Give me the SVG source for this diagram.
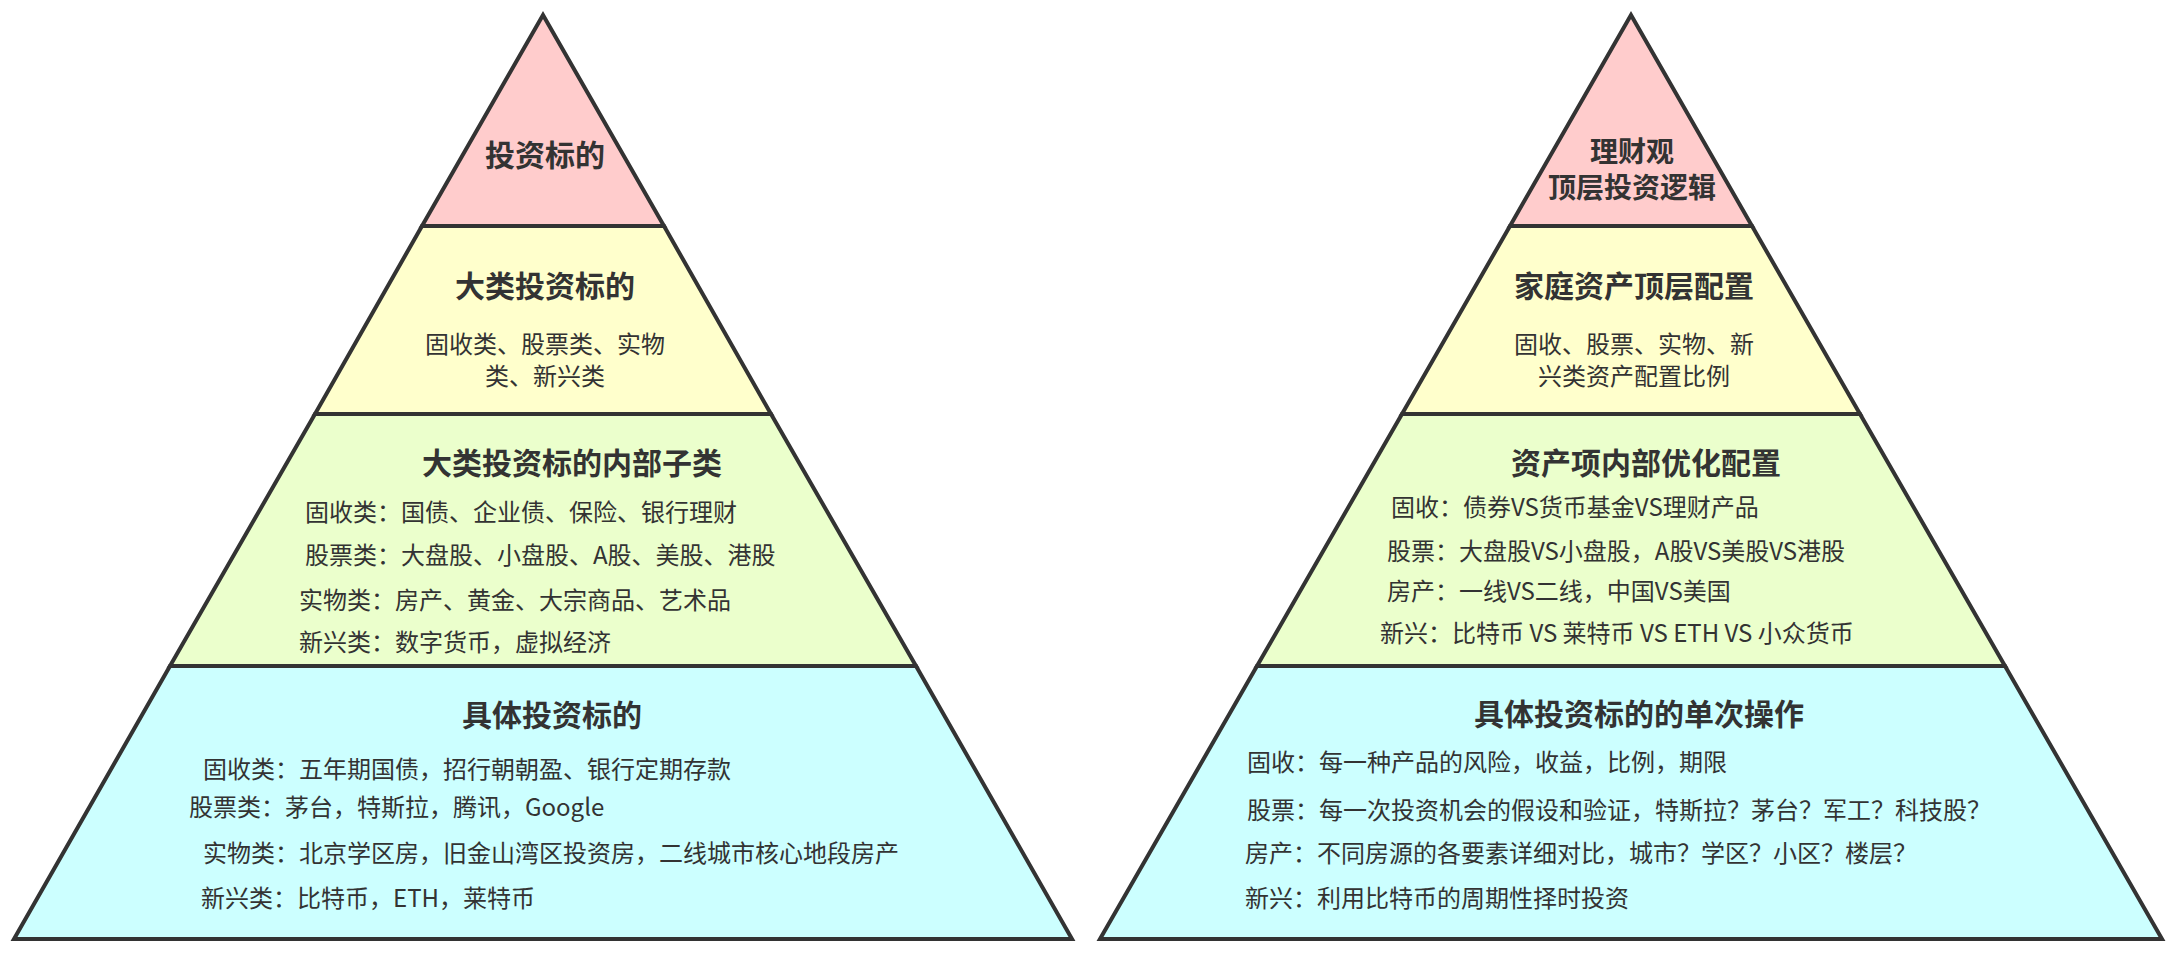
<svg xmlns="http://www.w3.org/2000/svg" width="2179" height="953" viewBox="0 0 2179 953">
<style>
.b{stroke:#333;stroke-width:4;stroke-linejoin:miter}
.p{fill:#ffcccc}.y{fill:#ffffcc}.g{fill:#ebffcc}.c{fill:#ccffff}
text{font-family:"Noto Sans CJK SC","Noto Sans",sans-serif;fill:#333;dominant-baseline:central}
.h{font-size:30px;font-weight:bold;text-anchor:middle}
.m{font-size:24px;text-anchor:middle}
.t{font-size:24px}
</style>
<rect width="2179" height="953" fill="#fff"/>
<g id="left">
<g id="L1"><polygon class="b p" points="543,15 664,226 422,226"/><text class="h" x="545" y="153">投资标的</text></g>
<g id="L2"><polygon class="b y" points="422,226 664,226 771,414 315,414"/><text class="h" x="545" y="284">大类投资标的</text><text class="m" x="545" y="342">固收类、股票类、实物</text><text class="m" x="545" y="374">类、新兴类</text></g>
<g id="L3"><polygon class="b g" points="315,414 771,414 916,666 170,666"/><text class="h" x="572" y="461">大类投资标的内部子类</text>
<text class="t" x="305" y="510">固收类：国债、企业债、保险、银行理财</text>
<text class="t" x="305" y="553">股票类：大盘股、小盘股、A股、美股、港股</text>
<text class="t" x="299" y="598">实物类：房产、黄金、大宗商品、艺术品</text>
<text class="t" x="299" y="640">新兴类：数字货币，虚拟经济</text></g>
<g id="L4"><polygon class="b c" points="170,666 916,666 1072,939 14,939"/><text class="h" x="552" y="713">具体投资标的</text>
<text class="t" x="203" y="767">固收类：五年期国债，招行朝朝盈、银行定期存款</text>
<text class="t" x="189" y="805">股票类：茅台，特斯拉，腾讯，Google</text>
<text class="t" x="203" y="851">实物类：北京学区房，旧金山湾区投资房，二线城市核心地段房产</text>
<text class="t" x="201" y="896">新兴类：比特币，ETH，莱特币</text></g>
</g>
<g id="right">
<g id="R1"><polygon class="b p" points="1631,15 1752,226 1510,226"/><text class="h" x="1632" y="150" style="font-size:28px">理财观</text><text class="h" x="1632" y="186" style="font-size:28px">顶层投资逻辑</text></g>
<g id="R2"><polygon class="b y" points="1510,226 1752,226 1860,414 1402,414"/><text class="h" x="1634" y="284">家庭资产顶层配置</text><text class="m" x="1634" y="342">固收、股票、实物、新</text><text class="m" x="1634" y="374">兴类资产配置比例</text></g>
<g id="R3"><polygon class="b g" points="1402,414 1860,414 2005,666 1257,666"/><text class="h" x="1646" y="461">资产项内部优化配置</text>
<text class="t" x="1391" y="505">固收：债券VS货币基金VS理财产品</text>
<text class="t" x="1387" y="549">股票：大盘股VS小盘股，A股VS美股VS港股</text>
<text class="t" x="1387" y="589">房产：一线VS二线，中国VS美国</text>
<text class="t" x="1380" y="631">新兴：比特币 VS 莱特币 VS ETH VS 小众货币</text></g>
<g id="R4"><polygon class="b c" points="1257,666 2005,666 2162,939 1100,939"/><text class="h" x="1639" y="712">具体投资标的的单次操作</text>
<text class="t" x="1247" y="760">固收：每一种产品的风险，收益，比例，期限</text>
<text class="t" x="1247" y="808">股票：每一次投资机会的假设和验证，特斯拉？茅台？军工？科技股？</text>
<text class="t" x="1245" y="851">房产：不同房源的各要素详细对比，城市？学区？小区？楼层？</text>
<text class="t" x="1245" y="896">新兴：利用比特币的周期性择时投资</text></g>
</g>
<g id="connectors"/>
</svg>
